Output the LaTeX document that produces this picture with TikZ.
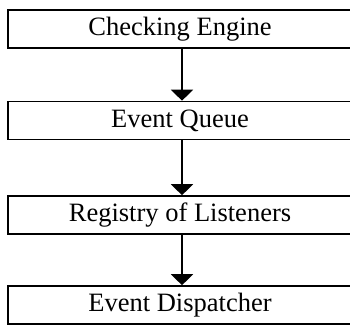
\documentclass[tikz,border=0pt]{standalone}
\usepackage{fontspec}
\setmainfont{Liberation Serif}
\usetikzlibrary{arrows.meta}
\begin{document}
\begin{tikzpicture}[x=1pt,y=-1pt,
  blk/.style={draw=black,line width=1.6pt,minimum width=344pt,minimum height=38pt,inner sep=0pt,font=\fontsize{26.5}{29}\selectfont,anchor=center},
  conn/.style={line width=1.4pt,-{Triangle[width=22pt,length=11pt]}}]
\useasboundingbox (0,0) rectangle (350,325);
\node[blk] (ce) at (180,29) {Checking Engine};
\node[blk] (eq) at (180,120.5) {Event Queue};
\node[blk] (rl) at (180,215) {Registry of Listeners};
\node[blk] (ed) at (180,305) {Event Dispatcher};
\draw[conn] (ce.south -| 182,0) -- (eq.north -| 182,0);
\draw[conn] (eq.south -| 182,0) -- (rl.north -| 182,0);
\draw[conn] (rl.south -| 182,0) -- (ed.north -| 182,0);
\end{tikzpicture}
\end{document}
